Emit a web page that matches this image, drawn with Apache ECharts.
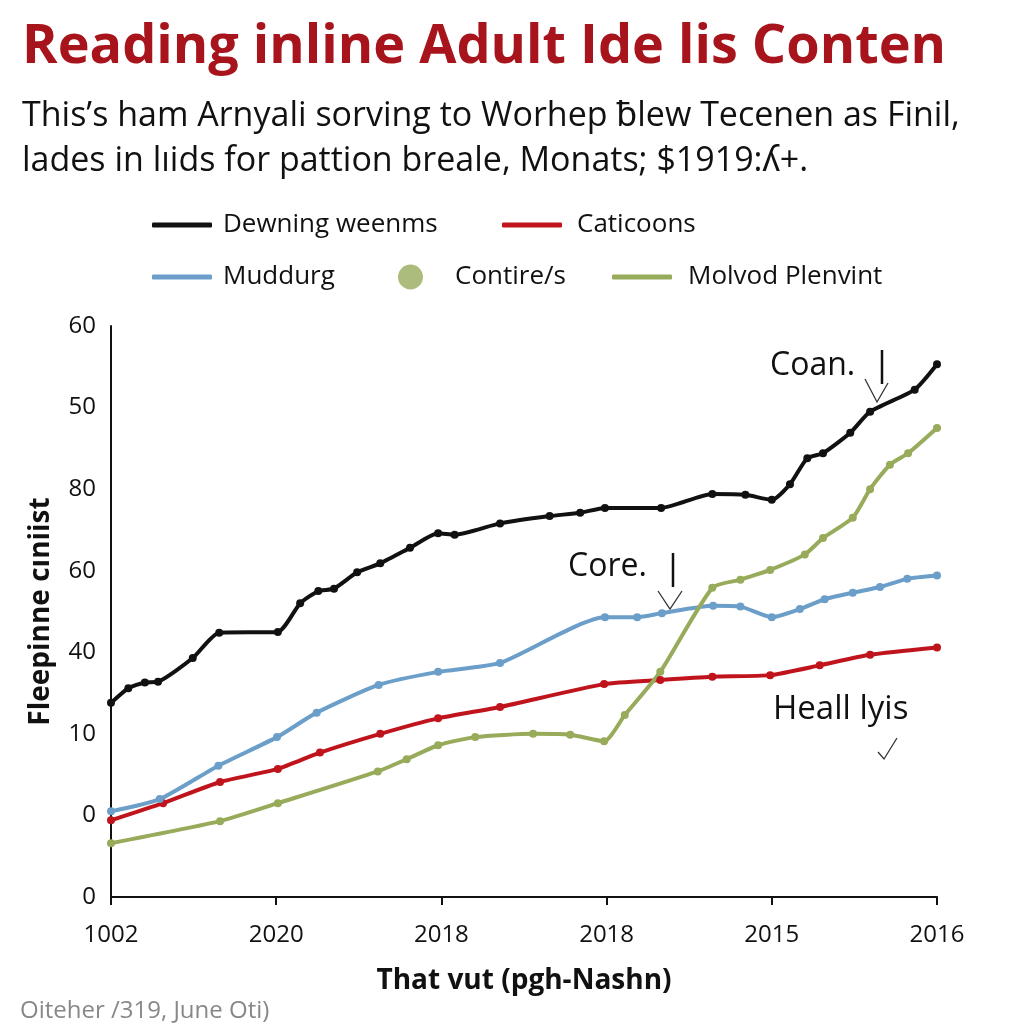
<!DOCTYPE html>
<html lang="en">
<head>
    <meta charset="UTF-8">
    <title>Chart</title>
    <script src="https://cdn.jsdelivr.net/npm/echarts@6/dist/echarts.min.js"></script>
    <style>
        html, body { margin: 0; padding: 0; background: #fff; }
        #main { width: 1024px; height: 1024px; }
    </style>
</head>
<body>
    <div id="main"></div>
    <script type="text/javascript">
        // tick labels (as printed on the chart)
        var xLabels = ['1002', '2020', '2018', '2018', '2015', '2016'];
        var yLabels = ['0', '0', '10', '40', '60', '80', '50', '60'];

        // series values, [x, y] on the axis scale
        var dewning = [[0, 23.8], [2.1, 25.6], [4.1, 26.3], [5.7, 26.4], [9.9, 29.3], [13.1, 32.4], [20.2, 32.5],
            [22.9, 36.0], [25.1, 37.5], [27.0, 37.8], [29.8, 39.8], [32.6, 40.9], [36.2, 42.8], [39.6, 44.6],
            [41.6, 44.4], [47.1, 45.8], [53.1, 46.7], [56.8, 47.1], [59.8, 47.7], [66.6, 47.7], [72.8, 49.4],
            [76.8, 49.3], [80.0, 48.7], [82.2, 50.6], [84.3, 53.8], [86.2, 54.4], [89.5, 56.9], [91.9, 59.5],
            [97.3, 62.2], [100, 65.3]];
        var caticoons = [[0, 9.4], [6.3, 11.5], [13.2, 14.1], [20.2, 15.7], [25.3, 17.7], [32.6, 20.0], [39.6, 21.9],
            [47.1, 23.3], [59.7, 26.1], [66.5, 26.6], [72.8, 27.0], [79.8, 27.2], [85.8, 28.4], [91.9, 29.7], [100, 30.6]];
        var muddurg = [[0, 10.5], [5.9, 12.0], [13.0, 16.1], [20.1, 19.6], [24.9, 22.6], [32.4, 26.0], [39.6, 27.6],
            [47.1, 28.7], [59.8, 34.3], [63.7, 34.3], [66.7, 34.8], [72.9, 35.7], [76.2, 35.6], [80.0, 34.3],
            [83.4, 35.3], [86.4, 36.5], [89.8, 37.3], [93.1, 38.0], [96.4, 39.0], [100, 39.4]];
        var molvod = [[0, 6.6], [13.2, 9.3], [20.2, 11.5], [32.3, 15.4], [35.8, 16.9], [39.6, 18.6], [44.1, 19.6],
            [51.1, 20.0], [55.6, 19.9], [59.7, 19.1], [62.2, 22.3], [66.5, 27.6], [72.8, 37.9], [76.2, 38.9],
            [79.8, 40.1], [84.0, 42.0], [86.2, 44.0], [89.8, 46.5], [91.9, 50.0], [94.3, 53.0], [96.5, 54.4], [100, 57.5]];

        var BLACK = '#111111', RED = '#c0141c', BLUE = '#6b9ec8', GREEN = '#97ab5b';
        var FONT = '"Open Sans", "Noto Sans", sans-serif';

        var myChart = echarts.init(document.getElementById('main'));

        function lineSeries(name, data, color) {
            return {
                name: name,
                type: 'line',
                data: data,
                smooth: 0.2,
                symbol: 'circle',
                symbolSize: 8,
                lineStyle: { color: color, width: 4 },
                itemStyle: { color: color },
                z: 3
            };
        }

        function legendItem(name, left, top, icon, w, h, gap) {
            return {
                data: [{ name: name, icon: icon }],
                left: left,
                top: top,
                padding: 0,
                itemWidth: w,
                itemHeight: h,
                selectedMode: false,
                textStyle: { fontSize: 26, color: '#111', fontFamily: FONT, padding: [0, 0, 0, gap] }
            };
        }

        var option = {
            backgroundColor: '#fff',
            animation: false,
            textStyle: { fontFamily: FONT },
            title: {
                text: 'Reading inline Adult Ide lis Conten',
                subtext: 'This\u2019s ham Arnyali sorving to Worhep \u0180lew Tecenen as Finil,\nlades in l\u0131ids for pattion breale, Monats; $1919:\u028e+.',
                left: 17,
                top: 16,
                itemGap: 19,
                textStyle: { fontSize: 54, fontWeight: 'bold', color: '#a8141c', fontFamily: FONT },
                subtextStyle: { fontSize: 34, color: '#111', lineHeight: 45, fontFamily: FONT }
            },
            legend: [
                legendItem('Dewning weenms', 152, 212, 'roundRect', 60, 5, 6),
                legendItem('Caticoons', 502, 212, 'roundRect', 60, 5, 10),
                legendItem('Muddurg', 152, 264, 'roundRect', 60, 5, 6),
                legendItem('Contire/s', 398, 264, 'circle', 25, 28, 27),
                legendItem('Molvod Plenvint', 612, 264, 'roundRect', 60, 5, 11)
            ],
            grid: { left: 111, right: 87, top: 326, bottom: 127 },
            xAxis: {
                type: 'value',
                min: 0,
                max: 100,
                interval: 20,
                name: 'That vut (pgh-Nashn)',
                nameLocation: 'middle',
                nameGap: 70,
                nameTextStyle: { fontSize: 28, fontWeight: 'bold', color: '#111' },
                axisLine: { lineStyle: { color: '#111', width: 2 } },
                axisTick: { show: true, length: 8, lineStyle: { color: '#111', width: 2 } },
                axisLabel: {
                    fontSize: 24, color: '#111', margin: 26,
                    formatter: function (v) { return xLabels[Math.round(v / 20)]; }
                },
                splitLine: { show: false }
            },
            yAxis: {
                type: 'value',
                min: 0,
                max: 70,
                interval: 10,
                name: 'Fleepinne c\u0131niist',
                nameLocation: 'middle',
                nameRotate: 90,
                nameGap: 56,
                nameTextStyle: { fontSize: 28, fontWeight: 'bold', color: '#111' },
                axisLine: { show: true, lineStyle: { color: '#111', width: 2 } },
                axisTick: { show: false },
                axisLabel: {
                    fontSize: 24, color: '#111', margin: 15,
                    formatter: function (v) { return yLabels[Math.round(v / 10)]; }
                },
                splitLine: { show: false }
            },
            series: [
                lineSeries('Dewning weenms', dewning, BLACK),
                lineSeries('Caticoons', caticoons, RED),
                lineSeries('Muddurg', muddurg, BLUE),
                { name: 'Contire/s', type: 'scatter', data: [], itemStyle: { color: GREEN } },
                lineSeries('Molvod Plenvint', molvod, GREEN)
            ],
            graphic: [
                { type: 'text', left: 770, top: 350, style: { text: 'Coan.', fontSize: 32, fill: '#111', fontFamily: FONT } },
                { type: 'line', shape: { x1: 882, y1: 350, x2: 882, y2: 384 }, style: { stroke: '#111', lineWidth: 2.5 } },
                { type: 'polyline', shape: { points: [[865, 379], [877, 402], [888, 383]] }, style: { stroke: '#333', lineWidth: 1.3, fill: null } },
                { type: 'text', left: 568, top: 551, style: { text: 'Core.', fontSize: 32, fill: '#111', fontFamily: FONT } },
                { type: 'line', shape: { x1: 673, y1: 553, x2: 673, y2: 587 }, style: { stroke: '#111', lineWidth: 2.5 } },
                { type: 'polyline', shape: { points: [[658, 591], [670, 609], [682, 591]] }, style: { stroke: '#333', lineWidth: 1.3, fill: null } },
                { type: 'text', left: 773, top: 693, style: { text: 'Heall lyis', fontSize: 33, fill: '#111', fontFamily: FONT } },
                { type: 'polyline', shape: { points: [[878, 752], [884, 759], [897, 738]] }, style: { stroke: '#333', lineWidth: 1.3, fill: null } },
                { type: 'text', left: 20, top: 999, style: { text: 'Oiteher /319, June Oti)', fontSize: 24, fill: '#888', fontFamily: FONT } }
            ]
        };

        myChart.setOption(option);
    </script>
</body>
</html>
